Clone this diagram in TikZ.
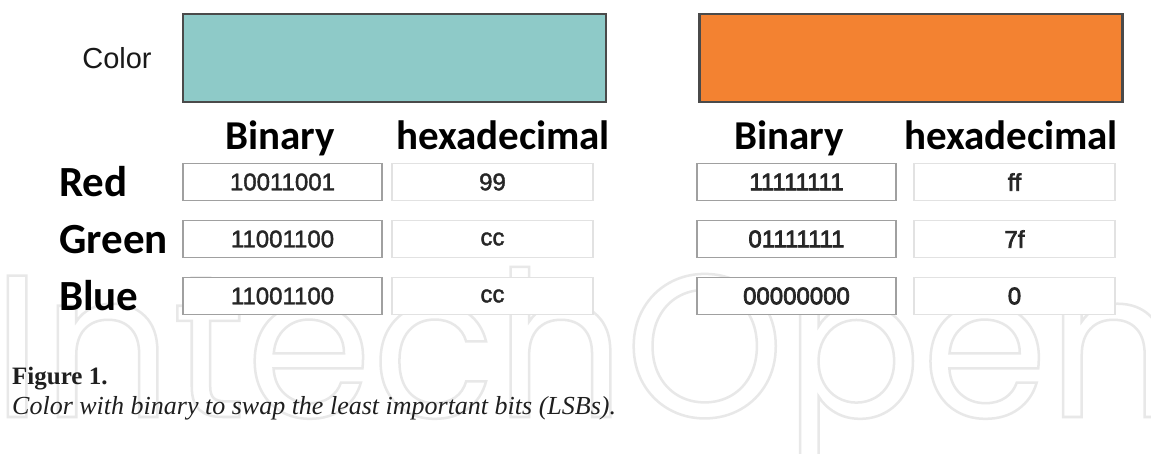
\documentclass[tikz,border=0pt]{standalone}
\usepackage{fontspec}
\setmainfont{Liberation Serif}
\newfontfamily\arialf{Liberation Sans}[Ligatures=NoCommon]
\newfontfamily\calf{Carlito}
\newfontfamily\wmf{Poppins}
\definecolor{tealsw}{HTML}{8ECAC8}
\definecolor{orangesw}{HTML}{F38231}
\definecolor{swborder}{HTML}{4A4A4A}
\definecolor{binborder}{HTML}{A0A0A0}
\definecolor{hexborder}{HTML}{E2E2E2}
\definecolor{celltext}{HTML}{262626}
\definecolor{wmgray}{HTML}{E8E8E8}
\newcommand{\outlinetext}[1]{\special{pdf:literal direct q 1 Tr 2.5 w 0.91 G}#1\special{pdf:literal direct Q}}
\newcommand{\heavytext}[2]{\special{pdf:literal direct q 2 Tr #1 w 0.15 G}#2\special{pdf:literal direct Q}}
\tikzset{
  swatch/.style={draw=swborder, line width=2.5pt, minimum width=423pt, minimum height=88pt, inner sep=0pt},
  hdr/.style={font=\calf\bfseries\fontsize{41}{41}\selectfont, anchor=base, inner sep=0pt},
  rowlbl/.style={font=\calf\bfseries\fontsize{43}{43}\selectfont, anchor=base west, inner sep=0pt},
  bincell/.style={draw=binborder, line width=1.5pt, fill=white, minimum width=199pt, minimum height=37pt, inner sep=0pt, text=celltext, font=\arialf\fontsize{24}{24}\selectfont},
  hexcell/.style={draw=hexborder, line width=1.5pt, fill=white, minimum width=201pt, minimum height=37pt, inner sep=0pt, text=celltext, font=\arialf\fontsize{24}{24}\selectfont},
}
\begin{document}
\begin{tikzpicture}[x=1pt,y=-1pt]
\useasboundingbox[fill=white] (0,0) rectangle (1151,454);
% watermark
\node[anchor=base west, inner sep=0pt, text=wmgray, font=\wmf\fontsize{203}{203}\selectfont] (wm) at (-8,417) {\outlinetext{IntechOpen}};
% swatches
\node[swatch, fill=tealsw] (sw1) at (394.5,58) {};
\node[swatch, fill=orangesw] (sw2) at (911,58) {};
\node[anchor=base, inner sep=0pt, text=black!90, font=\arialf\fontsize{29}{29}\selectfont] (colorlbl) at (117,69) {Color};
% headers
\node[hdr] (hb1) at (280,150) {Binary};
\node[hdr] (hh1) at (503,150) {hexadecimal};
\node[hdr] (hb2) at (789,150) {Binary};
\node[hdr] (hh2) at (1011,150) {hexadecimal};
% row labels
\node[rowlbl] (lred) at (59,197) {Red};
\node[rowlbl] (lgreen) at (59,254) {Green};
\node[rowlbl] (lblue) at (59,311) {Blue};
% left table
\node[bincell] (b1r) at (282.5,182) {\heavytext{0.4}{10011001}};
\node[bincell] (b1g) at (282.5,239) {\heavytext{0.4}{11001100}};
\node[bincell] (b1b) at (282.5,296) {\heavytext{0.4}{11001100}};
\node[hexcell] (h1r) at (492.5,182) {\heavytext{0.4}{99}};
\node[hexcell] (h1g) at (492.5,239) {\heavytext{0.4}{cc}};
\node[hexcell] (h1b) at (492.5,296) {\heavytext{0.4}{cc}};
% right table
\node[bincell] (b2r) at (796.5,182) {\heavytext{0.7}{11111111}};
\node[bincell] (b2g) at (796.5,239) {\heavytext{0.7}{01111111}};
\node[bincell] (b2b) at (796.5,296) {\heavytext{0.7}{00000000}};
\node[hexcell] (h2r) at (1014.5,182) {\heavytext{0.7}{f\kern0ptf}};
\node[hexcell] (h2g) at (1014.5,239) {\heavytext{0.7}{7f}};
\node[hexcell] (h2b) at (1014.5,296) {\heavytext{0.7}{0}};
% caption
\node[anchor=base west, inner sep=0pt, text=black!88, font=\bfseries\fontsize{25}{25}\selectfont] (figlbl) at (12,384) {Figure 1.};
\node[anchor=base west, inner sep=0pt, text=black!88, font=\itshape\fontsize{26}{26}\selectfont] (caption) at (12,414) {Color with binary to swap the least important bits (LSBs).};
\end{tikzpicture}
\end{document}
